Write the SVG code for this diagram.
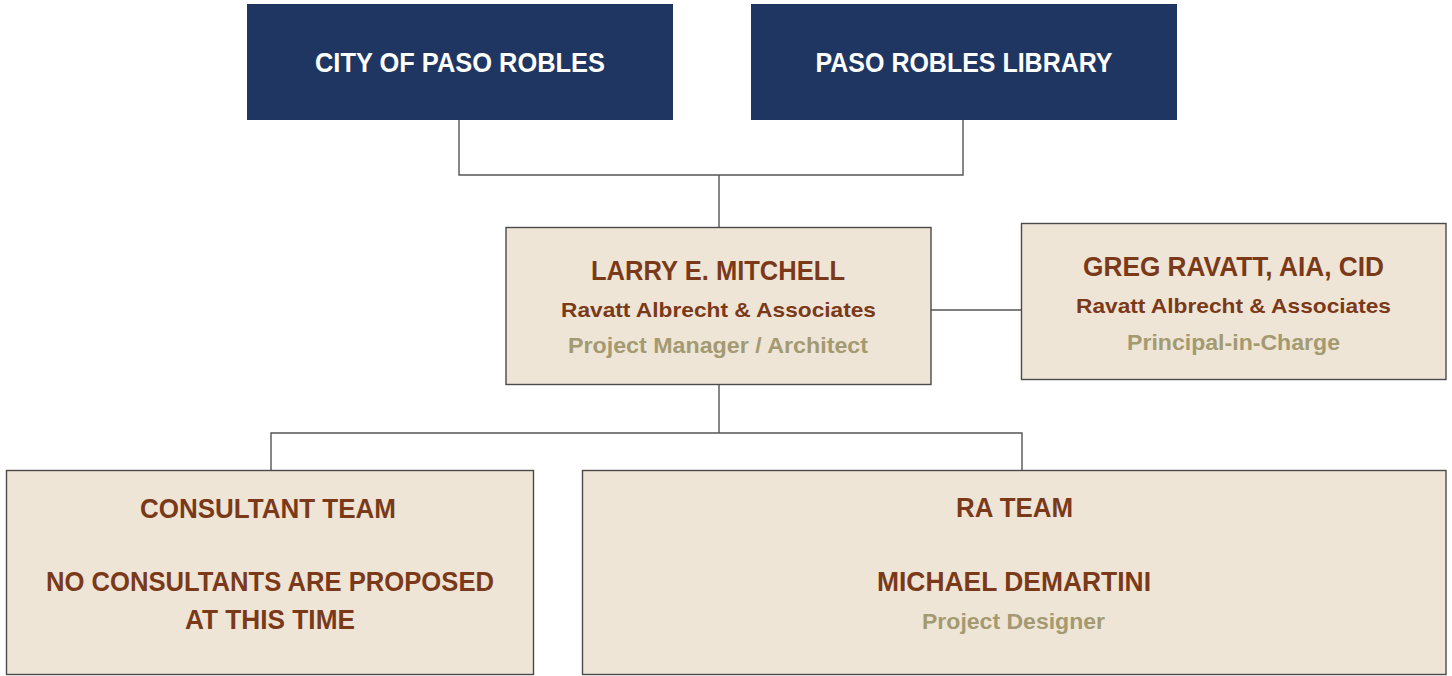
<svg xmlns="http://www.w3.org/2000/svg" width="1452" height="676" viewBox="0 0 1452 676">
<style>
.top{fill:#1f3663}
.box{fill:#efe5d6;stroke:#4a4a4a;stroke-width:1.4}
.conn{fill:none;stroke:#555;stroke-width:1.4}
text{font-family:"Liberation Sans",Arial,sans-serif;font-weight:bold;text-anchor:middle}
.w{fill:#ffffff;font-size:27px}
.n{fill:#7a3a1a;font-size:27px}
.o{fill:#7a3a1a;font-size:21px}
.r{fill:#a39a72;font-size:22px}
</style>
<rect width="1452" height="676" fill="#ffffff"/>
<g id="connectors">
<path class="conn" d="M459 120V175H963V120M719 175V227"/>
<path class="conn" d="M931 310H1021"/>
<path class="conn" d="M719 385V433M271 470V433H1022V470"/>
</g>
<g id="city">
<rect class="top" x="247" y="4" width="426" height="116"/>
<text class="w" x="460" y="72" textLength="290" lengthAdjust="spacingAndGlyphs">CITY OF PASO ROBLES</text>
</g>
<g id="library">
<rect class="top" x="751" y="4" width="426" height="116"/>
<text class="w" x="964" y="72" textLength="297" lengthAdjust="spacingAndGlyphs">PASO ROBLES LIBRARY</text>
</g>
<g id="mitchell">
<rect class="box" x="506" y="227.5" width="425" height="157"/>
<text class="n" x="718" y="280" textLength="254" lengthAdjust="spacingAndGlyphs">LARRY E. MITCHELL</text>
<text class="o" x="718.5" y="317" textLength="315" lengthAdjust="spacingAndGlyphs">Ravatt Albrecht &amp; Associates</text>
<text class="r" x="718" y="353" textLength="300" lengthAdjust="spacingAndGlyphs">Project Manager / Architect</text>
</g>
<g id="ravatt">
<rect class="box" x="1021.5" y="223.5" width="424.5" height="156"/>
<text class="n" x="1233.5" y="276" textLength="301" lengthAdjust="spacingAndGlyphs">GREG RAVATT, AIA, CID</text>
<text class="o" x="1233.5" y="313" textLength="315" lengthAdjust="spacingAndGlyphs">Ravatt Albrecht &amp; Associates</text>
<text class="r" x="1233.5" y="350" textLength="213" lengthAdjust="spacingAndGlyphs">Principal-in-Charge</text>
</g>
<g id="consultant">
<rect class="box" x="6.5" y="470.5" width="527" height="204"/>
<text class="n" x="268" y="518" textLength="256" lengthAdjust="spacingAndGlyphs">CONSULTANT TEAM</text>
<text class="n" x="270" y="591" textLength="448" lengthAdjust="spacingAndGlyphs">NO CONSULTANTS ARE PROPOSED</text>
<text class="n" x="270" y="629" textLength="170" lengthAdjust="spacingAndGlyphs">AT THIS TIME</text>
</g>
<g id="rateam">
<rect class="box" x="582.5" y="470.5" width="863.5" height="204"/>
<text class="n" x="1014.5" y="517" textLength="117" lengthAdjust="spacingAndGlyphs">RA TEAM</text>
<text class="n" x="1014" y="591" textLength="274" lengthAdjust="spacingAndGlyphs">MICHAEL DEMARTINI</text>
<text class="r" x="1013.5" y="629" textLength="183" lengthAdjust="spacingAndGlyphs">Project Designer</text>
</g>
</svg>
